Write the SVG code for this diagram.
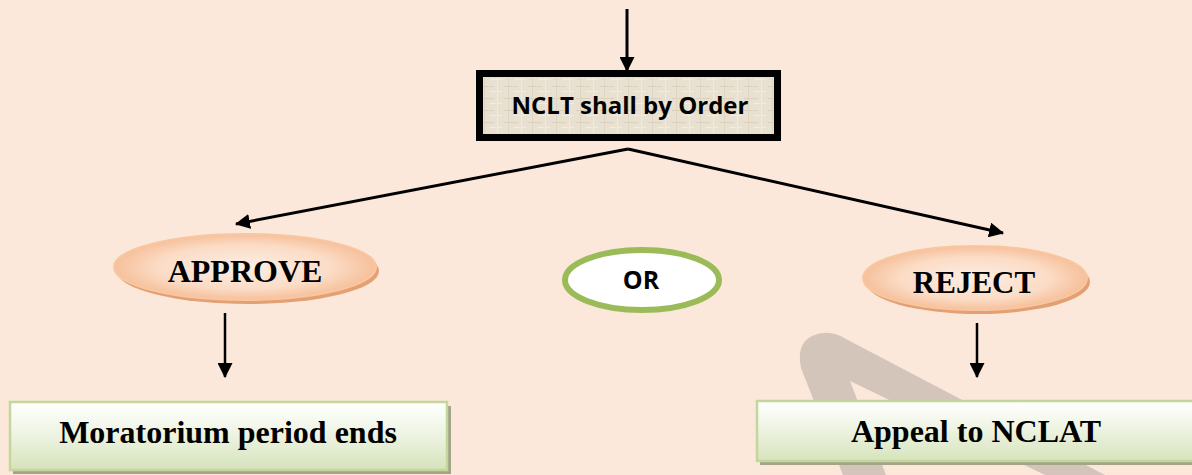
<svg xmlns="http://www.w3.org/2000/svg" width="1192" height="475" viewBox="0 0 1192 475">
  <style>
    .serif { font-family: "Liberation Serif", "Times New Roman", serif; font-weight: bold; fill: #000; text-anchor: middle; }
    .sans { font-family: "Open Sans", "Liberation Sans", sans-serif; font-weight: bold; fill: #000; text-anchor: middle; }
    .conn { stroke: #000; fill: none; }
    .oval { fill: url(#peach); stroke: #F8C7A2; stroke-width: 2; }
    .ovalShadow { fill: #E3A173; }
    .gbox { fill: url(#greenGrad); stroke: #C3D69B; stroke-width: 2.5; }
    .gShadow { fill: #A3A487; }
  </style>
  <defs>
    <radialGradient id="peach" cx="0.5" cy="0.5" r="0.55">
      <stop offset="0" stop-color="#FDEEE4"/>
      <stop offset="0.6" stop-color="#FBDCC6"/>
      <stop offset="1" stop-color="#F5B88E"/>
    </radialGradient>
    <linearGradient id="greenGrad" x1="0" y1="0" x2="0" y2="1">
      <stop offset="0" stop-color="#FFFFFF"/>
      <stop offset="0.35" stop-color="#F3F7EA"/>
      <stop offset="1" stop-color="#D6E3BC"/>
    </linearGradient>
    <pattern id="texture" width="24" height="12" patternUnits="userSpaceOnUse">
      <rect width="24" height="12" fill="#E8E0D0"/>
      <rect x="0" y="2" width="14" height="1" fill="#DAD0BC"/>
      <rect x="10" y="7" width="12" height="1" fill="#F2ECE1"/>
      <rect x="4" y="0" width="1" height="12" fill="#DFD5C3"/>
      <rect x="17" y="0" width="1" height="12" fill="#F0E9DE"/>
    </pattern>
    <marker id="arrow" viewBox="0 0 14 14" markerWidth="15" markerHeight="15" refX="13" refY="7" orient="auto" markerUnits="userSpaceOnUse">
      <path d="M0,0 L14,7 L0,14 z" fill="#000"/>
    </marker>
  </defs>

  <rect x="0" y="0" width="1192" height="475" fill="#FCE8DA"/>

  <!-- watermark shape -->
  <path d="M843 475 L801 368 Q796 344 812 336 Q829 328 846 339 L1105 475 L1045 475 L850 381 L886 475 Z" fill="#D3C5BA"/>

  <g id="connectors">
    <line class="conn" x1="627" y1="9" x2="627" y2="71" stroke-width="3" marker-end="url(#arrow)"/>
    <line class="conn" x1="628" y1="149" x2="236" y2="224" stroke-width="3" marker-end="url(#arrow)"/>
    <line class="conn" x1="628" y1="149" x2="1003" y2="233" stroke-width="3" marker-end="url(#arrow)"/>
    <line class="conn" x1="225" y1="313" x2="225" y2="377" stroke-width="2.5" marker-end="url(#arrow)"/>
    <line class="conn" x1="977" y1="323" x2="977" y2="377" stroke-width="2.5" marker-end="url(#arrow)"/>
  </g>

  <g id="nclt">
    <rect x="479.5" y="73.5" width="298" height="64" fill="url(#texture)" stroke="#000" stroke-width="7"/>
    <text class="sans" x="630" y="114" font-size="24">NCLT shall by Order</text>
  </g>

  <g id="approve">
    <ellipse class="ovalShadow" cx="248" cy="271" rx="131" ry="33"/>
    <ellipse class="oval" cx="245" cy="267" rx="131" ry="33"/>
    <text class="serif" x="245" y="282" font-size="32">APPROVE</text>
  </g>

  <g id="or">
    <ellipse cx="642" cy="280" rx="77" ry="30" fill="#FFFFFF" stroke="#9BBB59" stroke-width="6"/>
    <text class="sans" x="641" y="289" font-size="25">OR</text>
  </g>

  <g id="reject">
    <ellipse class="ovalShadow" cx="978" cy="282" rx="112" ry="32"/>
    <ellipse class="oval" cx="975" cy="278" rx="112" ry="32"/>
    <text class="serif" x="974" y="293" font-size="31">REJECT</text>
  </g>

  <g id="moratorium">
    <rect class="gShadow" x="13" y="406" width="438" height="68"/>
    <rect class="gbox" x="10" y="402" width="437" height="68"/>
    <text class="serif" x="228" y="443" font-size="32">Moratorium period ends</text>
  </g>

  <g id="appeal">
    <rect class="gShadow" x="760" y="405" width="440" height="60"/>
    <rect class="gbox" x="757" y="401" width="440" height="60"/>
    <text class="serif" x="976" y="442" font-size="32">Appeal to NCLAT</text>
  </g>
</svg>
